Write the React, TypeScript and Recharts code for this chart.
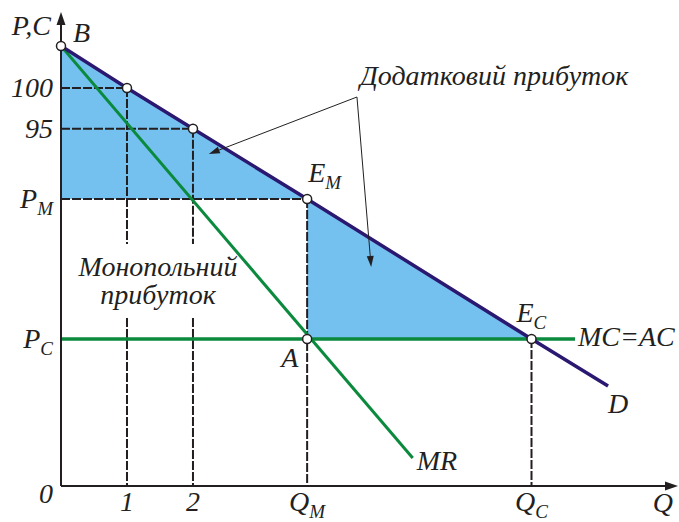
import React from 'react';
import {
  ComposedChart,
  Line,
  Area,
  XAxis,
  YAxis,
  ReferenceLine,
  ReferenceDot
} from 'recharts';

// axis extents (Q along x, P/C along y)
const Q_MAX = 9.35;
const P_MAX = 118.5;

// tick marks and their labels
const qTicks = [1, 2, 3.73, 7.13];
const qTickText = ['1', '2', 'Q', 'Q'];
const qTickSub = ['', '', 'M', 'C'];
const pTicks = [99.5, 89.3, 71.75, 36.75];
const pTickText = ['100', '95', 'P', 'P'];
const pTickSub = ['', '', 'M', 'C'];

// demand curve D
const demandQ = [0, 1, 2, 3.73, 7.13, 8.29];
const demandP = [110, 99.5, 89.3, 71.75, 36.75, 25];
// marginal revenue MR
const mrQ = [0, 5.33];
const mrP = [110, 7];
// MC = AC
const mcQ = [0, 7.79];
const mcP = [36.75, 36.75];

// shaded zones (low / high bound of the band)
const zone1Q = [0, 3.73];
const zone1Low = [71.75, 71.75];
const zone1High = [110, 71.75];
const zone2Q = [3.73, 7.13];
const zone2Low = [36.75, 36.75];
const zone2High = [71.75, 36.75];

// open circles: B, 100, 95, E_M, A, E_C
const pointQ = [0, 1, 2, 3.73, 3.73, 7.13];
const pointP = [110, 99.5, 89.3, 71.75, 36.75, 36.75];

// dashed guide segments [q1, p1, q2, p2]
const guides = [
  [0, 99.5, 1, 99.5],
  [0, 89.3, 2, 89.3],
  [0, 71.75, 3.73, 71.75],
  [1, 99.5, 1, 60.5],
  [1, 42, 1, 0],
  [2, 89.3, 2, 60.5],
  [2, 42, 2, 0],
  [3.73, 71.75, 3.73, 0],
  [7.13, 36.75, 7.13, 0]
];

// callout arrows for "Додатковий прибуток"
const calloutFrom = [4.485, 97.25];
const calloutTo = [
  [2.24, 83],
  [4.7, 54.75]
];

const INK = '#231f20';
const FONT = "'Liberation Serif', 'Times New Roman', serif";
const FS = 28;

const toRows = (qs: number[], ps: number[]) => qs.map((q, i) => ({ q, p: ps[i] }));
const toBand = (qs: number[], lo: number[], hi: number[]) =>
  qs.map((q, i) => ({ q, band: [lo[i], hi[i]] }));

const Sub = ({ text, sub }: { text: string; sub: string }) => (
  <>
    <tspan>{text}</tspan>
    {sub && (
      <tspan dy={7} fontSize={19}>
        {sub}
      </tspan>
    )}
  </>
);

const XTick = (props: any) => {
  const { x, y, payload } = props;
  const i = qTicks.indexOf(payload.value);
  return (
    <text x={x} y={y} dy={17} textAnchor="middle" fontFamily={FONT} fontStyle="italic" fontSize={FS} fill={INK}>
      <Sub text={qTickText[i]} sub={qTickSub[i]} />
    </text>
  );
};

const YTick = (props: any) => {
  const { x, y, payload } = props;
  const i = pTicks.indexOf(payload.value);
  return (
    <text x={x} y={y} dy={9} textAnchor="end" fontFamily={FONT} fontStyle="italic" fontSize={FS} fill={INK}>
      <Sub text={pTickText[i]} sub={pTickSub[i]} />
    </text>
  );
};

const arrowShape = (width: number, len: number, half: number) => (props: any) => {
  const { x1, y1, x2, y2 } = props;
  const a = Math.atan2(y2 - y1, x2 - x1);
  const bx = x2 - len * Math.cos(a);
  const by = y2 - len * Math.sin(a);
  const s = Math.sin(a);
  const c = Math.cos(a);
  const pts = `${x2},${y2} ${bx + half * s},${by - half * c} ${bx - half * s},${by + half * c}`;
  return (
    <g>
      <line x1={x1} y1={y1} x2={bx} y2={by} stroke={INK} strokeWidth={width} />
      <polygon points={pts} fill={INK} />
    </g>
  );
};

// free text labels anchored at a data point
const labels = [
  { q: 0, p: 110, text: 'B', sub: '', dx: 12, dy: -4, anchor: 'start' },
  { q: 0, p: P_MAX, text: 'P,C', sub: '', dx: -10, dy: 23, anchor: 'end' },
  { q: 0, p: 0, text: '0', sub: '', dx: -8, dy: 17, anchor: 'end' },
  { q: Q_MAX, p: 0, text: 'Q', sub: '', dx: -5, dy: 26, anchor: 'end' },
  { q: 3.73, p: 71.75, text: 'E', sub: 'M', dx: 1, dy: -17, anchor: 'start' },
  { q: 7.13, p: 36.75, text: 'E', sub: 'C', dx: -15, dy: -17, anchor: 'start' },
  { q: 3.73, p: 36.75, text: 'A', sub: '', dx: -26, dy: 28, anchor: 'start' },
  { q: 7.79, p: 36.75, text: 'MC=AC', sub: '', dx: 3, dy: 7, anchor: 'start' },
  { q: 8.29, p: 25, text: 'D', sub: '', dx: 0, dy: 27, anchor: 'start' },
  { q: 5.33, p: 7, text: 'MR', sub: '', dx: 4, dy: 12, anchor: 'start' },
  { q: 4.485, p: 97.25, text: 'Додатковий прибуток', sub: '', dx: 3, dy: -12, anchor: 'start' },
  { q: 1.47, p: 49, text: 'Монопольний', sub: '', dx: 0, dy: -14, anchor: 'middle' },
  { q: 1.47, p: 49, text: 'прибуток', sub: '', dx: 0, dy: 14, anchor: 'middle' }
];

export default function App() {
  return (
    <div style={{ position: 'absolute', left: 0, top: 0, background: '#fff' }}>
      <ComposedChart width={679} height={522} margin={{ top: 12, right: 1, left: 0, bottom: 0 }}>
        <XAxis
          type="number"
          dataKey="q"
          domain={[0, Q_MAX]}
          ticks={qTicks}
          tick={<XTick />}
          tickLine={false}
          axisLine={false}
          height={36}
          allowDataOverflow
        />
        <YAxis
          type="number"
          dataKey="p"
          domain={[0, P_MAX]}
          ticks={pTicks}
          tick={<YTick />}
          tickLine={false}
          axisLine={false}
          width={61}
          allowDataOverflow
        />

        <Area
          data={toBand(zone1Q, zone1Low, zone1High)}
          dataKey="band"
          type="linear"
          stroke="none"
          fill="#74c1f0"
          fillOpacity={1}
          isAnimationActive={false}
        />
        <Area
          data={toBand(zone2Q, zone2Low, zone2High)}
          dataKey="band"
          type="linear"
          stroke="none"
          fill="#74c1f0"
          fillOpacity={1}
          isAnimationActive={false}
        />

        {guides.map((g, i) => (
          <ReferenceLine
            key={'g' + i}
            segment={[{ x: g[0], y: g[1] }, { x: g[2], y: g[3] }]}
            stroke={INK}
            strokeWidth={2}
            strokeDasharray="9 2"
            ifOverflow="visible"
          />
        ))}

        <Line data={toRows(mrQ, mrP)} dataKey="p" type="linear" stroke="#0b8a3e" strokeWidth={3} dot={false} isAnimationActive={false} />
        <Line data={toRows(mcQ, mcP)} dataKey="p" type="linear" stroke="#0b8a3e" strokeWidth={3.5} dot={false} isAnimationActive={false} />
        <Line data={toRows(demandQ, demandP)} dataKey="p" type="linear" stroke="#2b1870" strokeWidth={3.5} dot={false} isAnimationActive={false} />

        {/* axes with arrow heads */}
        <ReferenceLine
          segment={[{ x: 0, y: 0 }, { x: 0, y: P_MAX }]}
          shape={arrowShape(2, 13, 4.5)}
          ifOverflow="visible"
        />
        <ReferenceLine
          segment={[{ x: 0, y: 0 }, { x: Q_MAX, y: 0 }]}
          shape={arrowShape(2, 13, 4.5)}
          ifOverflow="visible"
        />

        {calloutTo.map((t, i) => (
          <ReferenceLine
            key={'c' + i}
            segment={[{ x: calloutFrom[0], y: calloutFrom[1] }, { x: t[0], y: t[1] }]}
            shape={arrowShape(1, 11, 3.5)}
            ifOverflow="visible"
          />
        ))}

        {pointQ.map((q, i) => (
          <ReferenceDot
            key={'p' + i}
            x={q}
            y={pointP[i]}
            r={4.5}
            fill="#fff"
            stroke={INK}
            strokeWidth={1.5}
            ifOverflow="visible"
          />
        ))}

        {labels.map((l, i) => (
          <ReferenceDot
            key={'l' + i}
            x={l.q}
            y={l.p}
            ifOverflow="visible"
            shape={(props: any) => (
              <text
                x={props.cx + l.dx}
                y={props.cy + l.dy}
                textAnchor={l.anchor as any}
                fontFamily={FONT}
                fontStyle="italic"
                fontSize={FS}
                fill={INK}
              >
                <Sub text={l.text} sub={l.sub} />
              </text>
            )}
          />
        ))}
      </ComposedChart>
    </div>
  );
}
